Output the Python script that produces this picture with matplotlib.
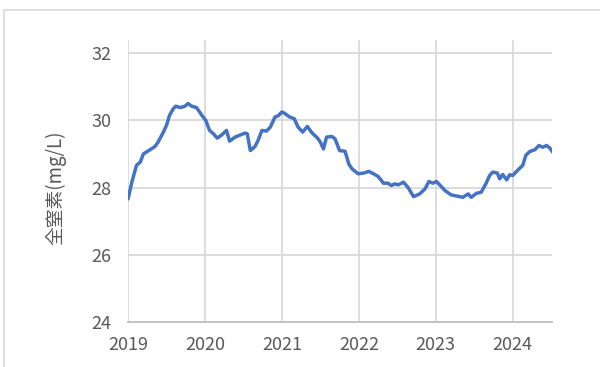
import matplotlib
matplotlib.use("Agg")
import matplotlib.pyplot as plt
from matplotlib.patches import Rectangle

plt.rcParams['font.family'] = ['Noto Sans CJK JP', 'DejaVu Sans']

# --- data (decimal year, mg/L) ---
years = [2019.00, 2019.05, 2019.11, 2019.16, 2019.20, 2019.29, 2019.35, 2019.39,
         2019.46, 2019.50, 2019.54, 2019.59, 2019.62, 2019.68, 2019.74, 2019.78,
         2019.83, 2019.89, 2019.96, 2020.01, 2020.06, 2020.11, 2020.16, 2020.22,
         2020.28, 2020.32, 2020.39, 2020.52, 2020.55, 2020.59, 2020.65, 2020.69,
         2020.74, 2020.80, 2020.85, 2020.91, 2020.95, 2021.00, 2021.04, 2021.10,
         2021.16, 2021.21, 2021.27, 2021.33, 2021.39, 2021.46, 2021.50, 2021.54,
         2021.58, 2021.65, 2021.69, 2021.75, 2021.82, 2021.87, 2021.91, 2021.99,
         2022.06, 2022.13, 2022.19, 2022.25, 2022.32, 2022.38, 2022.42, 2022.47,
         2022.51, 2022.58, 2022.64, 2022.71, 2022.79, 2022.86, 2022.91, 2022.96,
         2023.01, 2023.05, 2023.12, 2023.20, 2023.29, 2023.35, 2023.42, 2023.46,
         2023.53, 2023.59, 2023.65, 2023.70, 2023.74, 2023.80, 2023.83, 2023.87,
         2023.92, 2023.96, 2024.00, 2024.07, 2024.13, 2024.17, 2024.22, 2024.29,
         2024.34, 2024.39, 2024.44, 2024.48, 2024.52]
tn = [27.66, 28.16, 28.66, 28.76, 29.00, 29.13, 29.22, 29.35,
      29.65, 29.85, 30.15, 30.35, 30.42, 30.38, 30.42, 30.50,
      30.42, 30.38, 30.15, 30.00, 29.70, 29.60, 29.47, 29.57,
      29.70, 29.38, 29.50, 29.62, 29.60, 29.10, 29.22, 29.40,
      29.70, 29.68, 29.80, 30.10, 30.13, 30.25, 30.20, 30.10,
      30.05, 29.80, 29.65, 29.82, 29.63, 29.48, 29.35, 29.15,
      29.50, 29.52, 29.45, 29.10, 29.08, 28.70, 28.56, 28.41,
      28.43, 28.48, 28.41, 28.33, 28.13, 28.13, 28.06, 28.11,
      28.08, 28.16, 28.00, 27.73, 27.81, 27.96, 28.18, 28.13,
      28.18, 28.08, 27.91, 27.78, 27.74, 27.71, 27.81, 27.71,
      27.83, 27.86, 28.11, 28.36, 28.46, 28.43, 28.26, 28.39,
      28.23, 28.38, 28.36, 28.53, 28.66, 28.96, 29.07, 29.13,
      29.25, 29.20, 29.25, 29.18, 29.05]

xticks = [2019, 2020, 2021, 2022, 2023, 2024]
yticks = [24, 26, 28, 30, 32]

fig = plt.figure(figsize=(6, 3.67), dpi=100)
ax = fig.add_axes([128/600, 1 - 322/367, (552 - 128)/600, (322 - 40)/367])

ax.plot(years, tn, color='#4472C4', lw=2.5, solid_capstyle='round', zorder=3)

ax.set_xlim(2019, 2024.51)
ax.set_ylim(24, 32.39)
ax.set_xticks(xticks)
ax.set_xticklabels([str(y) for y in xticks])
ax.set_yticks(yticks)

ax.grid(True, color='#d9d9d9', lw=1.3)
ax.set_axisbelow(True)
for s in ['top', 'right', 'left']:
    ax.spines[s].set_visible(False)
ax.spines['bottom'].set_color('#bfbfbf')
ax.spines['bottom'].set_linewidth(1.3)
ax.tick_params(length=0, labelsize=13, labelcolor='#595959')
ax.tick_params(axis='y', pad=12)
ax.tick_params(axis='x', pad=10)

ax.set_ylabel('全窒素(mg/L)', fontsize=13.5, color='#595959')
ax.yaxis.set_label_coords((66 - 128) / 424, (322 - 188) / 282)

# light frame around the chart area
fig.add_artist(Rectangle((4/600, -0.1), 1.2, 1 - 10/367 + 0.1, transform=fig.transFigure,
                         fill=False, edgecolor='#d9d9d9', lw=1.2))

fig.savefig('out.png', dpi=100, facecolor='white')
